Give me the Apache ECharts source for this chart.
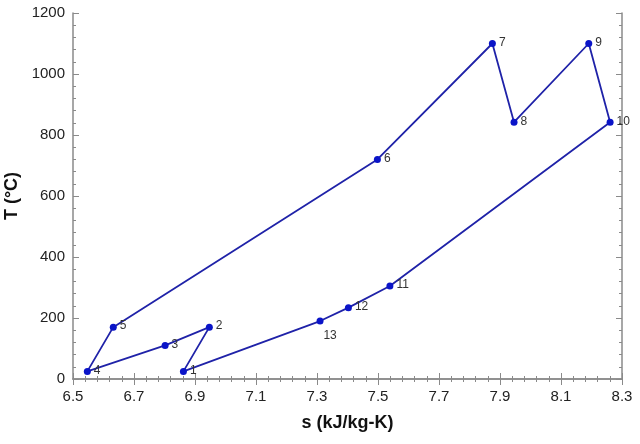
<!DOCTYPE html>
<html>
<head>
<meta charset="utf-8">
<script src="https://cdn.jsdelivr.net/npm/echarts@6/dist/echarts.min.js"></script>
<style>
  html, body { margin: 0; padding: 0; background: #fff; }
  #chart { width: 640px; height: 444px; }
</style>
</head>
<body>
<div id="chart"></div>
<script>
// state points of the cycle
var stateNames = ['1', '2', '3', '4', '5', '6', '7', '8', '9', '10', '11', '12', '13'];
var sValues = [6.862, 6.947, 6.802, 6.547, 6.632, 7.498, 7.875, 7.946, 8.191, 8.261, 7.539, 7.403, 7.310];
var tValues = [25, 170, 110, 25, 170, 720, 1100, 842, 1100, 842, 305, 234, 190];

var myChart = echarts.init(document.getElementById('chart'));

var pts = [];
for (var i = 0; i < stateNames.length; i++) {
  pts.push({
    value: [sValues[i], tValues[i]],
    name: stateNames[i],
    label: stateNames[i] === '13'
      ? { position: 'bottom', offset: [10, 2] }
      : { position: 'right', offset: [0, -1] }
  });
}
// close the loop back to state 1
pts.push({ value: [sValues[0], tValues[0]], symbolSize: 0, label: { show: false } });

var axisFont = { fontFamily: 'Liberation Sans, Arial, sans-serif', fontSize: 15, color: '#222' };
var frameLine = { show: true, lineStyle: { color: '#8a8a8a', width: 1.5 } };

var option = {
  animation: false,
  grid: { left: 73, right: 18, top: 13, bottom: 65, outerBoundsMode: 'none', containLabel: false },
  xAxis: [{
    type: 'value',
    min: 6.5, max: 8.3, interval: 0.2,
    name: 's (kJ/kg-K)',
    nameLocation: 'middle',
    nameGap: 35,
    nameTextStyle: { fontFamily: 'Liberation Sans, Arial, sans-serif', fontSize: 18, fontWeight: 'bold', color: '#111' },
    axisLine: frameLine,
    axisTick: { inside: true, length: 6, lineStyle: { color: '#8a8a8a' } },
    minorTick: { show: true, splitNumber: 5, length: 3, lineStyle: { color: '#8a8a8a' } },
    axisLabel: Object.assign({ margin: 10, formatter: function (v) { return v.toFixed(1); } }, axisFont),
    splitLine: { show: false }
  }, {
    type: 'value',
    position: 'top',
    min: 6.5, max: 8.3, interval: 0.2,
    axisLine: frameLine,
    axisTick: { inside: true, length: 6, lineStyle: { color: '#8a8a8a' } },
    minorTick: { show: true, splitNumber: 5, length: 3, lineStyle: { color: '#8a8a8a' } },
    axisLabel: { show: false },
    splitLine: { show: false }
  }],
  yAxis: [{
    type: 'value',
    min: 0, max: 1200, interval: 200,
    name: 'T (°C)',
    nameLocation: 'middle',
    nameGap: 47,
    nameTextStyle: { fontFamily: 'Liberation Sans, Arial, sans-serif', fontSize: 18, fontWeight: 'bold', color: '#111' },
    axisLine: frameLine,
    axisTick: { inside: true, length: 6, lineStyle: { color: '#8a8a8a' } },
    minorTick: { show: true, splitNumber: 5, length: 3, lineStyle: { color: '#8a8a8a' } },
    axisLabel: Object.assign({ margin: 8, formatter: function (v) { return String(v); } }, axisFont),
    splitLine: { show: false }
  }, {
    type: 'value',
    position: 'right',
    min: 0, max: 1200, interval: 200,
    axisLine: frameLine,
    axisTick: { inside: true, length: 6, lineStyle: { color: '#8a8a8a' } },
    minorTick: { show: true, splitNumber: 5, length: 3, lineStyle: { color: '#8a8a8a' } },
    axisLabel: { show: false },
    splitLine: { show: false }
  }],
  series: [{
    type: 'line',
    data: pts,
    symbol: 'circle',
    symbolSize: 7,
    itemStyle: { color: '#0a14c8' },
    lineStyle: { color: '#1f22a8', width: 1.8 },
    label: {
      show: true,
      formatter: '{b}',
      distance: 3,
      fontFamily: 'Liberation Sans, Arial, sans-serif',
      fontSize: 12,
      color: '#333'
    }
  }]
};

myChart.setOption(option);
</script>
</body>
</html>
